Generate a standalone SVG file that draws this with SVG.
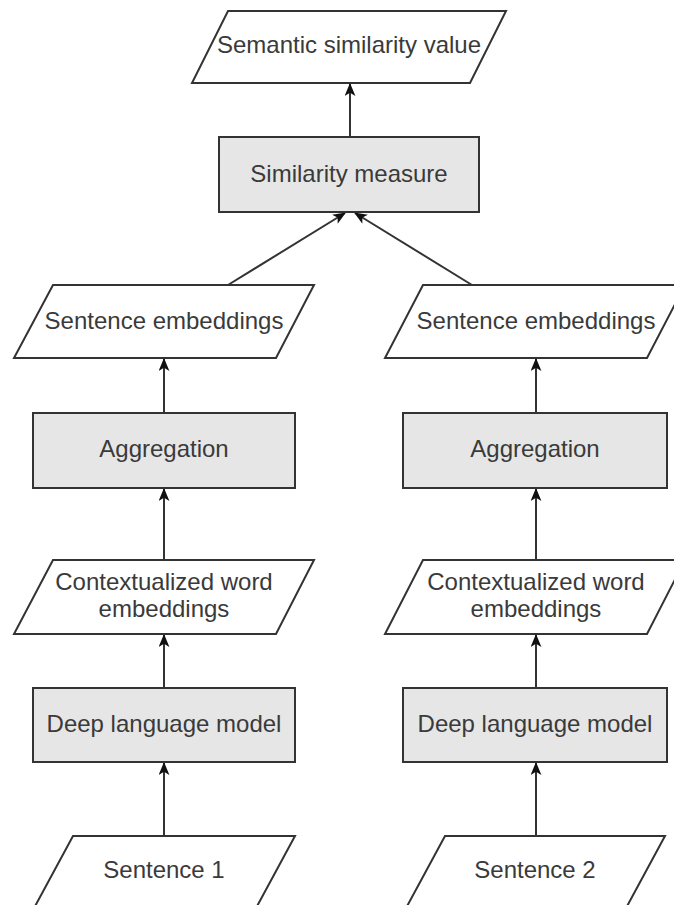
<svg xmlns="http://www.w3.org/2000/svg" width="674" height="905" viewBox="0 0 674 905">
<style>
.box{fill:#e6e6e6;stroke:#333;stroke-width:2}
.io{fill:#fff;stroke:#333;stroke-width:2}
.t{font-family:"Liberation Sans",Arial,sans-serif;font-size:24px;fill:#3a3a3a;text-anchor:middle}
.c{stroke:#333;stroke-width:2;fill:none;marker-end:url(#ah)}
</style>
<defs>
<marker id="ah" viewBox="0 0 12 10" refX="11" refY="5" markerWidth="13" markerHeight="11" markerUnits="userSpaceOnUse" orient="auto">
<path d="M0,0 L12,5 L0,10 L3,5 Z" fill="#111"/>
</marker>
</defs>
<rect width="674" height="905" fill="#fff"/>
<g id="connectors">
<line class="c" x1="350" y1="137" x2="350" y2="84"/>
<line class="c" x1="228" y1="285" x2="345" y2="213"/>
<line class="c" x1="472" y1="285" x2="355" y2="213"/>
<line class="c" x1="164" y1="413" x2="164" y2="359"/>
<line class="c" x1="164" y1="560" x2="164" y2="489"/>
<line class="c" x1="164" y1="688" x2="164" y2="635"/>
<line class="c" x1="164" y1="836" x2="164" y2="763"/>
<line class="c" x1="536" y1="413" x2="536" y2="359"/>
<line class="c" x1="536" y1="560" x2="536" y2="489"/>
<line class="c" x1="536" y1="688" x2="536" y2="635"/>
<line class="c" x1="536" y1="836" x2="536" y2="763"/>
</g>
<g id="semantic-similarity-value">
<polygon class="io" points="228,11 506,11 470,83 192,83"/>
<text class="t" x="349" y="53">Semantic similarity value</text>
</g>
<g id="similarity-measure">
<rect class="box" x="219" y="137" width="260" height="75"/>
<text class="t" x="349" y="182">Similarity measure</text>
</g>
<g id="sentence-embeddings-1">
<polygon class="io" points="53,285 314,285 276,358 14,358"/>
<text class="t" x="164" y="329">Sentence embeddings</text>
</g>
<g id="aggregation-1">
<rect class="box" x="33" y="413" width="262" height="75"/>
<text class="t" x="164" y="457">Aggregation</text>
</g>
<g id="contextualized-1">
<polygon class="io" points="53,560 314,560 276,634 14,634"/>
<text class="t" x="164" y="590">Contextualized word</text>
<text class="t" x="164" y="617">embeddings</text>
</g>
<g id="deep-language-model-1">
<rect class="box" x="33" y="688" width="262" height="74"/>
<text class="t" x="164" y="732">Deep language model</text>
</g>
<g id="sentence-1">
<polygon class="io" points="73,836 295,836 255,910 33,910"/>
<text class="t" x="164" y="878">Sentence 1</text>
</g>
<g id="sentence-embeddings-2">
<polygon class="io" points="423,285 685,285 647,358 385,358"/>
<text class="t" x="536" y="329">Sentence embeddings</text>
</g>
<g id="aggregation-2">
<rect class="box" x="403" y="413" width="264" height="75"/>
<text class="t" x="535" y="457">Aggregation</text>
</g>
<g id="contextualized-2">
<polygon class="io" points="423,560 685,560 647,634 385,634"/>
<text class="t" x="536" y="590">Contextualized word</text>
<text class="t" x="536" y="617">embeddings</text>
</g>
<g id="deep-language-model-2">
<rect class="box" x="403" y="688" width="264" height="74"/>
<text class="t" x="535" y="732">Deep language model</text>
</g>
<g id="sentence-2">
<polygon class="io" points="445,836 665,836 625,910 405,910"/>
<text class="t" x="535" y="878">Sentence 2</text>
</g>
</svg>
